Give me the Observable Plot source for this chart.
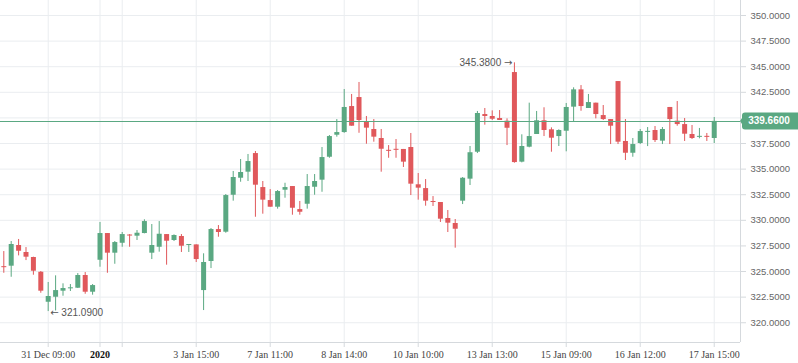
<!DOCTYPE html>
<html><head><meta charset="utf-8">
<script src="https://cdn.jsdelivr.net/npm/d3@7"></script>
<script src="https://cdn.jsdelivr.net/npm/@observablehq/plot@0.6"></script>
<style>body{margin:0;background:#fff}#chart svg{display:block}</style>
</head><body><div id="chart"></div>
<script>
// Hourly OHLC bars, 30 Dec 2019 10:00 -> 17 Jan 2020 15:00
const open  = [325.45,325.52,327.54,326.86,326.37,324.93,322.00,322.49,323.08,323.31,323.37,324.61,322.98,326.10,328.71,326.79,327.76,328.55,328.45,328.71,326.79,327.37,328.61,328.03,328.42,327.54,327.60,323.14,325.98,329.10,328.84,332.45,334.11,334.70,336.52,333.20,331.93,331.28,332.94,333.30,331.05,331.57,333.23,333.92,336.16,338.31,338.57,341.11,341.99,339.65,338.87,337.99,336.82,336.92,336.92,337.11,333.47,333.10,331.81,331.74,330.18,329.69,331.87,334.02,336.65,340.33,340.14,339.94,339.68,344.43,335.68,337.14,338.38,339.72,338.84,338.18,338.70,341.05,342.74,340.92,341.44,340.23,339.84,343.55,337.70,336.55,337.50,338.60,338.77,337.73,341.02,339.68,339.35,338.38,338.12,338.18,337.99];
const high  = [326.95,327.93,328.13,327.34,326.40,325.00,323.93,324.58,323.80,323.73,324.80,324.90,323.73,329.79,328.71,327.93,328.81,328.61,329.00,330.05,329.59,329.88,328.61,328.58,328.61,327.64,327.60,326.73,329.20,329.49,332.52,334.77,335.94,336.43,336.72,333.79,333.00,332.91,333.62,333.30,331.84,334.47,334.47,337.11,338.28,339.84,342.77,342.29,343.46,340.14,339.84,338.87,337.30,337.89,336.92,338.48,334.57,333.98,332.32,331.74,330.96,330.08,334.18,337.21,340.63,340.92,340.69,340.72,339.91,345.38,338.35,341.44,340.63,340.99,339.03,338.84,341.41,342.94,343.16,342.29,341.44,341.21,339.84,343.55,339.84,337.99,338.87,339.06,339.16,339.06,341.02,341.60,339.94,339.26,338.97,338.48,340.04];
const low   = [324.83,324.44,326.53,326.07,324.64,322.88,321.09,321.15,322.59,323.05,323.34,322.78,322.69,325.42,324.83,325.71,327.37,327.37,328.03,328.68,326.17,326.89,325.62,327.93,326.86,326.86,325.88,321.19,325.29,328.35,328.74,331.87,333.72,333.79,330.30,330.60,331.28,331.09,332.16,330.50,330.50,331.09,332.45,332.74,336.06,338.12,338.50,339.19,338.50,337.43,337.63,334.70,336.06,336.06,335.16,332.42,331.97,331.38,331.35,329.79,328.81,327.28,331.54,333.40,336.52,339.29,339.75,339.75,337.30,335.58,335.61,337.08,338.38,338.18,336.65,337.21,336.69,339.58,340.65,340.92,339.91,339.75,337.40,337.40,335.84,336.16,337.40,337.20,337.60,337.40,337.40,339.19,337.70,337.89,337.96,337.70,337.50];
const close = [325.40,327.64,326.98,326.40,325.03,323.08,322.56,323.14,323.34,323.41,324.61,322.98,323.63,328.71,326.79,327.83,328.61,328.48,328.74,329.88,327.54,328.64,327.96,328.52,327.47,327.64,326.17,325.88,329.10,328.81,332.42,334.18,334.67,335.74,333.43,331.97,331.28,332.81,333.20,331.18,330.79,333.30,333.79,336.13,338.18,338.57,341.02,339.19,339.75,339.00,338.12,336.94,336.75,336.85,335.68,333.53,333.14,331.87,331.77,330.11,329.72,329.13,334.11,336.60,340.43,340.14,339.87,339.75,338.99,335.64,337.21,338.18,339.72,338.77,338.02,338.77,341.02,342.74,341.11,341.50,340.33,339.84,339.19,337.63,336.55,337.40,338.67,338.67,337.79,338.87,339.84,339.35,338.41,337.99,338.18,338.12,339.66];

const tickIndex  = [6, 13, 16, 26, 36, 46, 56, 66, 76, 86, 96];
const tickLabels = ["31 Dec 09:00", "2020", "", "3 Jan 15:00", "7 Jan 11:00", "8 Jan 14:00", "10 Jan 10:00", "13 Jan 13:00", "15 Jan 09:00", "16 Jan 12:00", "17 Jan 15:00"];
const yTicks = [320, 322.5, 325, 327.5, 330, 332.5, 335, 337.5, 340, 342.5, 345, 347.5, 350];
const lastPrice = 339.66;
const maxMark = [{i: 69, v: 345.38}];
const minMark = [{i: 6, v: 321.09}];

const GREEN = "#5aa882", RED = "#e0585b", GRID = "#eaedf0", AXIS = "#d5d9dd";

const bars = open.map((o, i) => {
  const c = close[i];
  const lo = Math.min(o, c), hi = Math.max(o, c);
  const pad = Math.max(0, (0.1 - (hi - lo)) / 2);
  return {i, o, c, h: high[i], l: low[i], b1: lo - pad, b2: hi + pad, up: c >= o};
});

// labels hidden behind the price badge are not drawn
const yLabelTicks = yTicks.filter(t => Math.abs(t - lastPrice) > 0.9);

const xDomain = [-0.446, 99.55];
const yDomain = [318.07, 351.465];
const plotH = 342;
const yPx = plotH - (lastPrice - yDomain[0]) / (yDomain[1] - yDomain[0]) * plotH;
const lineDy = Math.round(yPx) - yPx;

const chart = Plot.plot({
  width: 798, height: 363,
  marginLeft: 0, marginRight: 58, marginTop: 0, marginBottom: 21,
  x: {type: "linear", domain: xDomain, axis: null, label: null},
  y: {domain: yDomain, axis: null, label: null},
  style: {fontFamily: "'Liberation Sans', sans-serif", background: "#fff", overflow: "visible"},
  marks: [
    Plot.gridY(yTicks, {stroke: GRID, strokeOpacity: 1}),
    Plot.gridX(tickIndex, {stroke: GRID, strokeOpacity: 1}),
    Plot.ruleY([yDomain[0]], {stroke: AXIS}),
    Plot.ruleX([xDomain[1]], {stroke: AXIS}),
    Plot.axisY(yLabelTicks, {anchor: "right", label: null, tickFormat: d => d.toFixed(4), tickSize: 5, tickPadding: 5, fontSize: 9.5, fill: "#666", stroke: AXIS}),
    Plot.axisX(tickIndex, {anchor: "bottom", label: null, tickFormat: d => { const k = tickIndex.indexOf(d); return d === 13 ? "" : tickLabels[k]; }, tickSize: 5, tickPadding: 3, fontSize: 10, fontFamily: "'Liberation Serif', serif", fill: "#444", stroke: AXIS}),
    Plot.axisX([13], {anchor: "bottom", label: null, tickFormat: () => tickLabels[1], tickSize: 0, tickPadding: 8, fontSize: 10, fontWeight: "bold", fontFamily: "'Liberation Serif', serif", fill: "#111"}),
    Plot.ruleX(bars, {x: "i", y1: "l", y2: "h", stroke: d => d.up ? GREEN : RED, strokeWidth: 1}),
    Plot.ruleX(bars, {x: "i", y1: "b1", y2: "b2", stroke: d => d.up ? GREEN : RED, strokeWidth: 5}),
    Plot.ruleY([lastPrice], {stroke: GREEN, strokeWidth: 1, dy: lineDy}),
    Plot.text(maxMark, {x: "i", y: "v", text: d => d.v.toFixed(4) + " \u2192", textAnchor: "end", dx: -2, fontSize: 10, fill: "#555", className: "ann"}),
    Plot.text(minMark, {x: "i", y: "v", text: d => "\u2190 " + d.v.toFixed(4), textAnchor: "start", dx: 2, dy: 1, fontSize: 10, fill: "#555", className: "ann"})
  ]
});

// render arrow glyphs in a font with larger arrows
d3.select(chart).selectAll(".ann text").each(function() {
  const t = d3.select(this);
  const s = t.text();
  t.text(null);
  s.split(/([\u2190\u2192])/).forEach(part => {
    if (!part) return;
    const ts = t.append("tspan").text(part);
    if (/[\u2190\u2192]/.test(part)) ts.attr("font-family", "'DejaVu Sans', sans-serif").attr("font-size", 10);
  });
});

// current price badge on the right axis
const yPos = chart.scale("y").apply(lastPrice);
const svg = d3.select(chart);
const g = svg.append("g");
g.append("rect").attr("x", 742).attr("y", yPos - 8.5).attr("width", 60).attr("height", 17).attr("rx", 3).attr("fill", GREEN);
g.append("path").attr("d", `M740,${yPos} L744,${yPos - 6} L744,${yPos + 6} Z`).attr("fill", GREEN);
g.append("text").attr("x", 769).attr("y", yPos).attr("dy", "0.35em").attr("text-anchor", "middle")
  .attr("fill", "#fff").attr("font-size", 10).attr("font-weight", "bold")
  .attr("font-family", "'Liberation Sans', sans-serif").text(lastPrice.toFixed(4));

document.getElementById("chart").append(chart);
</script>
</body></html>
